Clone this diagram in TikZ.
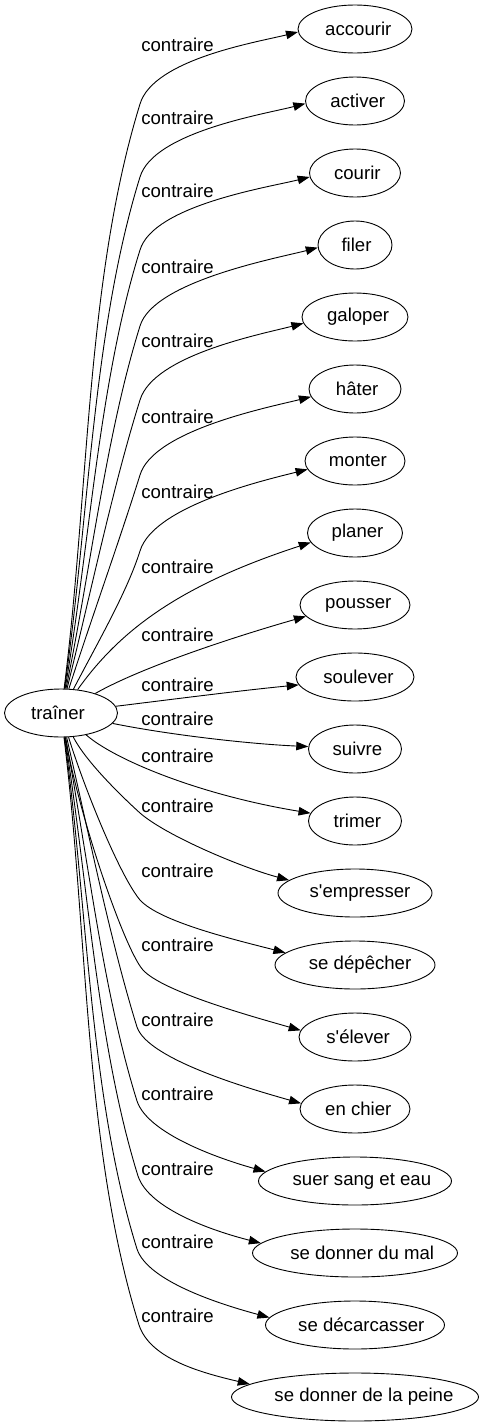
\documentclass[tikz,border=0pt]{standalone}
\usepackage{fontspec}
\newfontfamily\gvfont{Liberation Sans}
\usetikzlibrary{shapes.geometric,arrows.meta}
\newsavebox\gvbox
\newcommand\gvtext[1]{\sbox\gvbox{#1}\makebox[0pt]{\hspace*{0.1\wd\gvbox}\usebox\gvbox}}
\begin{document}
\begin{tikzpicture}[x=1pt,y=1pt,
  gv/.style={font=\gvfont\fontsize{18.6}{22}\selectfont},
  tnode/.style={gv, draw, ellipse, line width=0.9pt, inner sep=0pt, minimum height=48pt},
  lbl/.style={gv, anchor=base, inner sep=0pt},
  edge/.style={draw, line width=0.9pt, -{Triangle[length=12pt,width=8.5pt]}}]
\path[use as bounding box] (0,0) rectangle (484,-1427);
\node[tnode, minimum width=113pt] (t) at (61,-713) {\makebox[0pt]{\hspace*{-6pt}traîner}};
\foreach \n/\y/\w/\txt in {
  n1/29/114/accourir, n2/101/99/activer, n3/173/91/courir, n4/245/74/filer,
  n5/317/106/galoper, n6/389/92/hâter, n7/461/100/monter, n8/533/95/planer,
  n9/605/110/pousser, n10/677/118/soulever, n11/749/93/suivre, n12/821/93/trimer,
  n13/893/154/s'empresser, n14/965/160/se dépêcher, n15/1037/112/s'élever,
  n16/1109/110/en chier, n17/1181/193/suer sang et eau, n18/1253/205/se donner du mal,
  n19/1325/179/se décarcasser, n20/1397/247/se donner de la peine}
  {\node[tnode, minimum width=\w pt] (\n) at (355,-\y) {\gvtext{\txt}};}
\foreach \i/\l in {1/46,2/119,3/192,4/268,5/342,6/418,7/493,8/568,9/636,10/686,
  11/720,12/757,13/807,14/872,15/946,16/1021,17/1095,18/1170,19/1243,20/1317}
  {\node[lbl] (l\i) at (177.5,-\l-5) {contraire};}
% upper edges
\draw[edge] (t) .. controls (89,-493) and (86,-279) .. (140,-104) .. controls (153.5,-59) and (258,-42) .. (n1.183);
\draw[edge] (t) .. controls (89,-518) and (92.5,-330) .. (140,-177) .. controls (153.5,-132) and (265,-114) .. (n2.183.4);
\draw[edge] (t) .. controls (90,-542) and (99,-381) .. (140,-250) .. controls (153.5,-205) and (270,-187) .. (n3.185);
\draw[edge] (t) .. controls (91,-567) and (106,-435) .. (140,-326) .. controls (153.5,-281) and (278,-258) .. (n4.184.6);
\draw[edge] (t) .. controls (91,-592) and (113,-486) .. (140,-400) .. controls (153.5,-355) and (262,-334) .. (n5.187.5);
\draw[edge] (t) .. controls (92,-617) and (120,-539) .. (140,-475) .. controls (153.5,-430) and (270,-407) .. (n6.190);
\draw[edge] (t) .. controls (98,-642) and (127,-592) .. (140,-551) .. controls (153.5,-506) and (265,-480) .. (n7.190);
\draw[edge] (t) .. controls (120,-630) and (180,-585) .. (n8.192.5);
\draw[edge] (t) .. controls (140,-668) and (230,-638) .. (n9.193.5);
\draw[edge] (t) .. controls (175,-699) and (245,-690) .. (n10.188);
% lower edges
\draw[edge] (t) .. controls (170,-735) and (250,-744) .. (n11.177.6);
\draw[edge] (t) .. controls (115,-760) and (200,-795) .. (n12.170.3);
\draw[edge] (t) .. controls (85,-760) and (118,-793) .. (140,-813) .. controls (165,-835) and (240,-867) .. (n13.169);
\draw[edge] (t) .. controls (85,-790) and (120,-876) .. (140,-900) .. controls (160,-922) and (236,-940) .. (n14.170.5);
\draw[edge] (t) .. controls (80,-820) and (125,-950) .. (143,-970) .. controls (163,-992) and (254,-1017) .. (n15.173);
\draw[edge] (t) .. controls (89,-834) and (110,-940) .. (137,-1027) .. controls (148,-1060) and (254,-1090) .. (n16.174);
\draw[edge] (t) .. controls (88,-858) and (103,-992) .. (137,-1101) .. controls (148,-1134) and (220,-1159) .. (n17.174.3);
\draw[edge] (t) .. controls (88,-883) and (97,-1044) .. (138,-1176) .. controls (149,-1209) and (213,-1231) .. (n18.174.7);
\draw[edge] (t) .. controls (88,-908) and (89,-1095) .. (137,-1249) .. controls (148,-1282) and (223,-1305) .. (n19.175.4);
\draw[edge] (t) .. controls (88,-933) and (84,-1149) .. (139,-1325) .. controls (150,-1358) and (198,-1372) .. (n20.173.9);
\end{tikzpicture}
\end{document}
